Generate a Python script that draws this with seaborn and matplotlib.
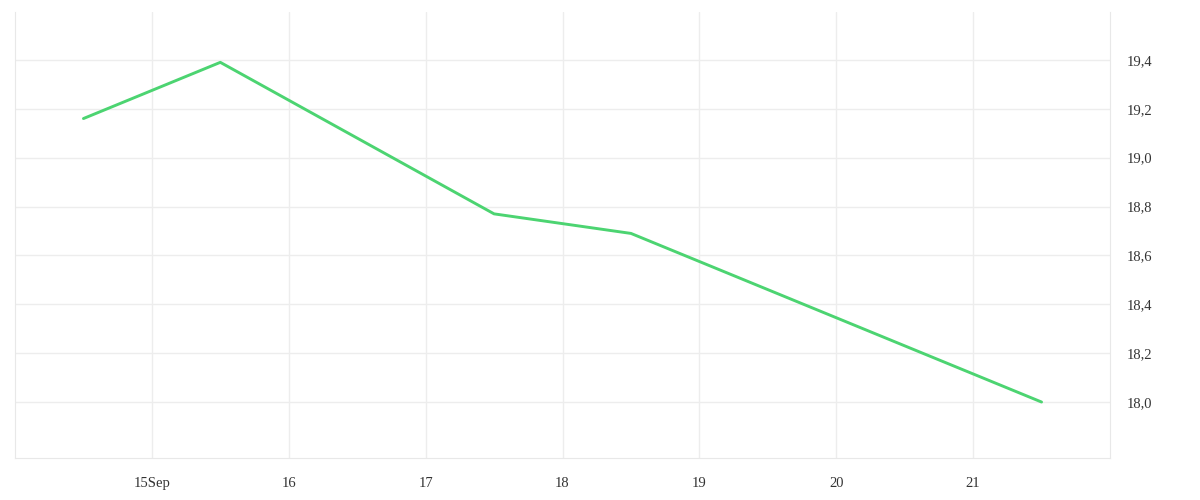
import numpy as np
import pandas as pd
import matplotlib
matplotlib.use("Agg")
import matplotlib.pyplot as plt
import matplotlib.ticker as mticker
import seaborn as sns

# data
times = ["2023-09-14 12:00", "2023-09-15 12:00", "2023-09-17 12:00",
         "2023-09-18 12:00", "2023-09-21 12:00"]
values = [19.16, 19.39, 18.77, 18.69, 18.00]
tick_days = ["2023-09-15", "2023-09-16", "2023-09-17", "2023-09-18",
             "2023-09-19", "2023-09-20", "2023-09-21"]
tick_labels = ["15Sep", "16", "17", "18", "19", "20", "21"]
y_ticks = [18.0, 18.2, 18.4, 18.6, 18.8, 19.0, 19.2, 19.4]

df = pd.DataFrame({"time": pd.to_datetime(times), "value": values})

sns.set_style("white")
plt.rcParams["font.family"] = ["Liberation Serif", "DejaVu Serif"]

fig = plt.figure(figsize=(12, 5), dpi=100)
ax = fig.add_axes([0.0125, 0.084, 0.9125, 0.892])

sns.lineplot(data=df, x="time", y="value", ax=ax, color="#4cd471", linewidth=2.1)

ax.set_xlim(pd.Timestamp("2023-09-14"), pd.Timestamp("2023-09-22"))
ax.set_ylim(17.771, 19.596)

ax.set_xticks(pd.to_datetime(tick_days))
ax.set_xticklabels(tick_labels)
ax.set_yticks(y_ticks)
ax.yaxis.set_major_formatter(mticker.FuncFormatter(lambda v, p: f"{v:.1f}".replace(".", ",")))
ax.yaxis.tick_right()

ax.grid(True, color="#ededed", linewidth=1)
for s in ["left", "right", "bottom"]:
    ax.spines[s].set_color("#e8e8e8")
ax.spines["top"].set_visible(False)

ax.tick_params(axis="x", length=8, color="#e8e8e8", labelsize=10.5, labelcolor="#333333", pad=6)
ax.tick_params(axis="y", length=0, labelsize=10.5, labelcolor="#333333", pad=12)
ax.set_xlabel("")
ax.set_ylabel("")

fig.savefig("out.png", dpi=100, facecolor="white")
